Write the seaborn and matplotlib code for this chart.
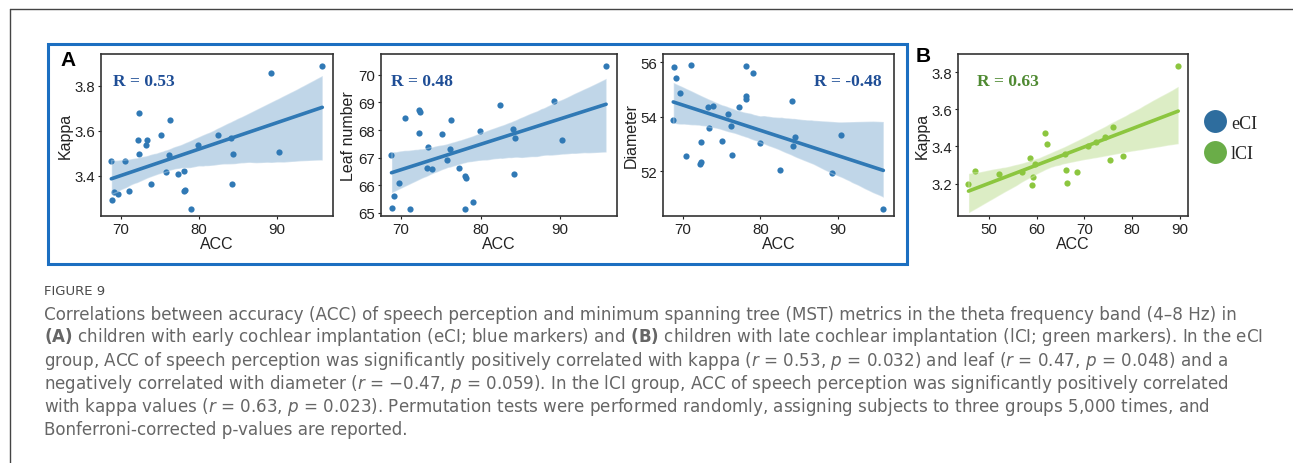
import numpy as np
import pandas as pd
import seaborn as sns
import matplotlib
matplotlib.use("Agg")
import matplotlib.pyplot as plt
from matplotlib.lines import Line2D
from matplotlib.collections import PolyCollection

# ---- data: early cochlear implantation group (eCI) ----
eci_acc = [68.8, 68.9, 69.1, 69.7, 70.5, 71.1, 72.2, 72.3, 72.4, 73.3,
           73.4, 73.9, 75.1, 75.8, 76.2, 76.3, 77.3, 78.1, 78.1, 78.2,
           79.0, 79.9, 82.5, 84.1, 84.2, 84.4, 89.2, 90.3, 95.8]
eci_kappa = [3.467, 3.292, 3.330, 3.321, 3.468, 3.333, 3.559, 3.499, 3.681, 3.536,
             3.561, 3.366, 3.581, 3.416, 3.493, 3.650, 3.409, 3.421, 3.335, 3.336,
             3.252, 3.539, 3.582, 3.567, 3.366, 3.495, 3.856, 3.504, 3.889]
eci_leaf = [67.11, 65.16, 65.59, 66.09, 68.42, 65.12, 68.73, 67.91, 68.64, 66.64,
            67.39, 66.59, 67.86, 66.90, 67.32, 68.36, 66.63, 66.33, 65.15, 66.25,
            65.39, 67.95, 68.91, 68.02, 66.42, 67.71, 69.05, 67.63, 70.34]
eci_diameter = [53.89, 55.84, 55.41, 54.89, 52.56, 55.88, 52.27, 53.07, 52.34, 54.35,
                53.60, 54.39, 53.12, 54.09, 53.67, 52.62, 54.37, 55.85, 54.66, 54.76,
                55.61, 53.04, 52.07, 54.59, 52.95, 53.28, 51.93, 53.34, 50.63]

# ---- data: late cochlear implantation group (lCI) ----
lci_acc = [89.7, 76.1, 61.7, 62.1, 74.3, 72.5, 70.8, 66.0, 58.7, 78.1, 75.3,
           59.6, 47.1, 52.2, 56.9, 66.2, 68.5, 59.2, 45.7, 59.0, 66.4]
lci_kappa = [3.836, 3.504, 3.475, 3.414, 3.449, 3.426, 3.405, 3.362, 3.340, 3.349, 3.325,
             3.307, 3.267, 3.249, 3.262, 3.273, 3.262, 3.235, 3.197, 3.193, 3.202]

r_labels = ["R = 0.53", "R = 0.48", "R = -0.48", "R = 0.63"]
panel_ylabels = ["Kappa", "Leaf number", "Diameter", "Kappa"]
legend_labels = ["eCI", "lCI"]

caption_title = "FIGURE 9"
caption_lines = [
    "Correlations between accuracy (ACC) of speech perception and minimum spanning tree (MST) metrics in the theta frequency band (4\u20138 Hz) in",
    r"$\mathbf{(A)}$ children with early cochlear implantation (eCI; blue markers) and $\mathbf{(B)}$ children with late cochlear implantation (lCI; green markers). In the eCI",
    r"group, ACC of speech perception was significantly positively correlated with kappa ($r$ = 0.53, $p$ = 0.032) and leaf ($r$ = 0.47, $p$ = 0.048) and a",
    "negatively correlated with diameter ($r$ = \u22120.47, $p$ = 0.059). In the lCI group, ACC of speech perception was significantly positively correlated",
    r"with kappa values ($r$ = 0.63, $p$ = 0.023). Permutation tests were performed randomly, assigning subjects to three groups 5,000 times, and",
    "Bonferroni-corrected p-values are reported.",
]

# ---- style ----
sns.set_style("white")
plt.rcParams["font.family"] = ["Liberation Sans", "DejaVu Sans"]
plt.rcParams["mathtext.fontset"] = "dejavusans"

BLUE = "#3079b5"
GREEN = "#8cc63f"
R_BLUE = "#1f4e96"
R_GREEN = "#4f8a32"
LEG_BLUE = "#2e6d9e"
LEG_GREEN = "#6aad48"
CAPTION_GRAY = "#666666"

W, H = 1293, 464
fig = plt.figure(figsize=(W / 100, H / 100), dpi=100)


def px_axes(left, top, right, bottom):
    return fig.add_axes([left / W, 1 - bottom / H, (right - left) / W, (bottom - top) / H])


frames = [
    (101, 55, 333, 217),
    (381, 55, 617, 217),
    (663, 55, 894, 217),
    (958, 55, 1188, 217),
]
datasets = [
    (eci_acc, eci_kappa, BLUE),
    (eci_acc, eci_leaf, BLUE),
    (eci_acc, eci_diameter, BLUE),
    (lci_acc, lci_kappa, GREEN),
]
xlims = [(67.48, 97.17)] * 3 + [(43.5, 91.75)]
ylims = [(3.222, 3.941), (64.88, 70.76), (50.37, 56.30), (3.025, 3.899)]
yticks = [[3.4, 3.6, 3.8], [65, 66, 67, 68, 69, 70], [52, 54, 56], [3.2, 3.4, 3.6, 3.8]]
xticks = [[70, 80, 90]] * 3 + [[50, 60, 70, 80, 90]]
r_pos = [(0.052, 0.835, "left"), (0.044, 0.835, "left"), (0.945, 0.835, "right"), (0.083, 0.835, "left")]
r_colors = [R_BLUE, R_BLUE, R_BLUE, R_GREEN]

for i, (frame, (x, y, c)) in enumerate(zip(frames, datasets)):
    ax = px_axes(*frame)
    df = pd.DataFrame({"ACC": x, "val": y})
    sns.regplot(data=df, x="ACC", y="val", ax=ax, color=c, ci=95, seed=3,
                scatter_kws=dict(s=20, linewidths=0, alpha=1),
                line_kws=dict(lw=2.6))
    for coll in ax.collections:
        if isinstance(coll, PolyCollection):
            coll.set_alpha(0.3)
    ax.set_xlim(*xlims[i])
    ax.set_ylim(*ylims[i])
    ax.set_xticks(xticks[i])
    ax.set_yticks(yticks[i])
    ax.set_yticklabels([f"{t:g}" if isinstance(t, int) else f"{t:.1f}" for t in yticks[i]])
    ax.set_xlabel("ACC", fontsize=11.5, labelpad=0, color="#222222")
    ax.set_ylabel(panel_ylabels[i], fontsize=11.5, labelpad=1, color="#222222")
    ax.tick_params(axis="both", labelsize=10.8, length=2.5, width=0.8, pad=2,
                   colors="#222222", direction="out", bottom=True, left=True)
    for sp in ax.spines.values():
        sp.set_color("#333333")
        sp.set_linewidth(1.2)
    rx, ry, ha = r_pos[i]
    ax.text(rx, ry, r_labels[i], transform=ax.transAxes, ha=ha, va="center",
            fontsize=12.5, fontweight="bold", color=r_colors[i],
            family=["Liberation Serif", "DejaVu Serif"])

# panel letters
fig.text(68 / W, 1 - 61 / H, "A", fontsize=15, fontweight="bold", color="black",
         family=["Liberation Sans"], ha="center", va="center")
fig.text(923 / W, 1 - 57 / H, "B", fontsize=15, fontweight="bold", color="black",
         family=["Liberation Sans"], ha="center", va="center")

# blue frame around panel A
fig.add_artist(plt.Rectangle((48 / W, 1 - 265 / H), (907 - 48) / W, (265 - 45) / H,
                             transform=fig.transFigure, fill=False,
                             edgecolor="#1c6fc1", linewidth=2.2))
# page frame lines
fig.add_artist(Line2D([10 / W, 1], [1 - 10 / H, 1 - 10 / H], transform=fig.transFigure,
                      color="#444444", lw=1.0))
fig.add_artist(Line2D([10 / W, 10 / W], [0, 1 - 10 / H], transform=fig.transFigure,
                      color="#444444", lw=1.0))

# group legend
handles = [Line2D([], [], marker="o", ls="none", markersize=16.5, markerfacecolor=col,
                  markeredgecolor="none") for col in (LEG_BLUE, LEG_GREEN)]
fig.legend(handles, legend_labels, loc="center left",
           bbox_to_anchor=(1195 / W, 1 - 139.5 / H), frameon=False,
           prop={"family": "Liberation Serif", "size": 13}, handletextpad=0.3,
           labelspacing=0.75, borderpad=0, handlelength=1.2)

# caption
fig.text(44 / W, 1 - 292 / H, caption_title, fontsize=9.5, color="#4a4a4a",
         family=["DejaVu Sans"], va="center")
line_y = [314.5, 337.5, 361, 384.5, 407.5, 430.5]
for yy, line in zip(line_y, caption_lines):
    fig.text(44 / W, 1 - yy / H, line, fontsize=12.1, color=CAPTION_GRAY,
             family=["DejaVu Sans"], va="center")

fig.savefig("out.png", dpi=100)
